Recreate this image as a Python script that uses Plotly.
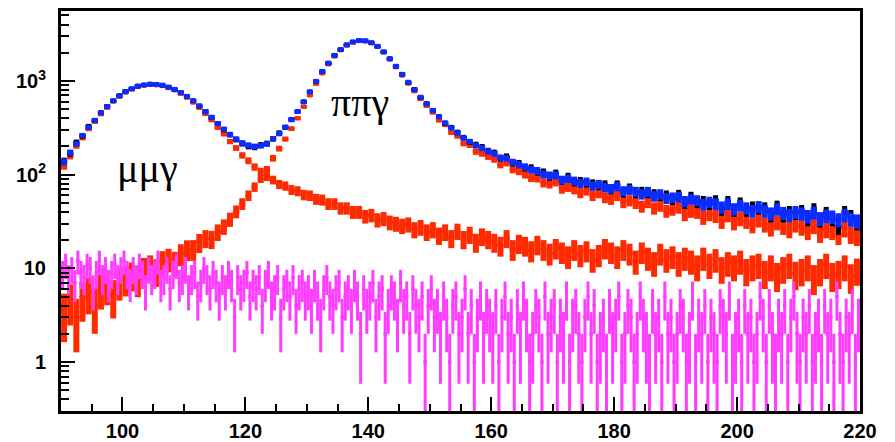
"""Invariant mass spectrum: mu mu gamma and pi pi gamma components on a log scale."""

import numpy as np
import plotly.graph_objects as go

# bin centres, 1 unit wide bins for data / total / components
mass = np.arange(90.5, 220, 1.0)
# 0.5 unit bins for the background histogram
mass_fine = np.arange(90.25, 220, 0.5)

data = [
    140, 168, 222, 258, 330, 376, 462, 540, 610, 702,
    778, 820, 890, 912, 918, 925, 895, 866, 805, 758,
    678, 620, 535, 478, 402, 355, 300, 270, 236, 214,
    200, 196, 208, 216, 240, 280, 318, 392, 468, 605,
    772, 982, 1270, 1540, 1890, 2150, 2440, 2620, 2730, 2690,
    2550, 2350, 2030, 1740, 1420, 1190, 955, 820, 662, 578,
    490, 420, 352, 322, 285, 250, 222, 210, 198, 180,
    172, 150, 156, 134, 132, 119, 118, 108, 106, 96,
    103, 87, 95, 84, 85, 82, 80, 77, 78, 70,
    78, 65, 72, 64, 66, 64, 62, 60, 60, 55,
    61, 50, 58, 51, 52, 49, 53, 43, 52, 42,
    50, 42, 45, 44, 44, 37, 46, 37, 40, 39,
    41, 34, 43, 33, 39, 34, 28, 40, 36, 31,
]

total = [
    137, 172, 214, 262, 320, 380, 456, 532, 616, 694,
    768, 826, 878, 906, 925, 916, 902, 858, 812, 750,
    685, 612, 543, 470, 410, 350, 306, 266, 240, 218,
    206, 200, 204, 213, 243, 274, 322, 385, 472, 596,
    764, 990, 1258, 1552, 1872, 2168, 2428, 2604, 2704, 2680,
    2560, 2338, 2048, 1724, 1434, 1172, 968, 805, 670, 568,
    483, 414, 357, 315, 278, 246, 226, 204, 193, 177,
    168, 152, 150, 136, 128, 121, 113, 110, 101, 98,
    99, 88, 91, 86, 81, 84, 76, 79, 73, 71,
    75, 67, 69, 66, 62, 66, 59, 62, 56, 57,
    58, 52, 55, 53, 48, 51, 49, 45, 49, 43,
    47, 44, 41, 45.5, 41, 38.5, 43, 39, 37, 40,
    38.5, 36, 39.5, 34, 36.5, 35.5, 33, 37, 33.5, 32,
]

pipig = [
    3.5, 4.6, 3.0, 4.9, 5.6, 4.0, 6.1, 6.6, 5.2, 7.2,
    7.8, 8.6, 7.7, 9.8, 10.5, 9.4, 11.8, 12.6, 11.6, 14.3,
    15.9, 16.0, 18.9, 21.0, 20.6, 24.5, 28.0, 33.5, 40.5, 49.0,
    60, 74, 91, 113, 150, 190, 240, 310, 400, 530,
    700, 930, 1200, 1500, 1820, 2120, 2380, 2560, 2660, 2640,
    2520, 2300, 2010, 1690, 1400, 1140, 935, 775, 640, 540,
    460, 380, 340, 282, 258, 215, 207, 176, 168, 156,
    146, 128, 134, 114, 109, 101, 93, 92, 82, 80,
    84, 71, 74, 70, 64, 68, 60, 64, 57, 55,
    60, 51, 53, 50, 46, 51, 44, 47, 41, 43,
    45, 38, 41, 40, 35, 38, 36.5, 32, 37, 31,
    34, 32, 29, 33, 29.5, 27, 31, 28, 26, 29.5,
    27.5, 25, 28.5, 23.5, 26, 25, 22.5, 26.5, 23, 22,
]

mumug = [
    124, 158, 203, 248, 308, 368, 442, 518, 602, 678,
    752, 808, 862, 888, 906, 898, 882, 838, 792, 728,
    662, 588, 517, 443, 382, 318, 272, 226, 193, 161,
    141, 121, 108, 95, 88, 79, 76, 69, 67, 61,
    60, 55, 54, 49, 49, 44, 44, 40, 40, 36,
    37, 33, 34, 31, 30, 28.5, 29.5, 26, 27.5, 24.5,
    26, 22.5, 24.5, 21, 25, 20.5, 23, 19, 22, 20.5,
    19, 17.5, 21, 16, 18.5, 17.5, 15.5, 18, 16, 14.5,
    16.5, 15, 13.5, 16, 14, 15.5, 12.5, 14, 16.5, 15,
    13.5, 16, 14.5, 12, 15, 13, 11.5, 14.5, 12.5, 13.5,
    11.5, 13, 12, 10.5, 13, 11, 12.5, 10, 11.5, 10.5,
    12, 9.5, 10.5, 11, 9, 10.5, 8.5, 10, 11, 8.8,
    9.5, 10.5, 8, 9.5, 11, 8.5, 9, 10.5, 8.2, 9.6,
]

background = [
    9, 11, 8, 10, 7, 12, 9, 8, 11, 10, 6, 9, 12, 8, 10, 7, 9, 11, 8, 10,
    12, 9, 7, 10, 8, 11, 9, 6, 10, 8, 9, 12, 7, 8, 10, 6, 9, 11, 7, 8,
    10, 6, 8, 9, 5, 7, 10, 8, 6, 9, 7, 5, 8, 6, 9, 7, 3, 8, 6, 7,
    9, 5, 7, 6, 8, 4, 7, 9, 5, 6, 8, 3, 6, 7, 5, 8, 4, 6, 7, 5,
    6, 4, 7, 5, 3, 6, 8, 5, 4, 6, 7, 3, 5, 6, 4, 7, 5, 2, 6, 4,
    5, 7, 3, 5, 6, 2, 4, 6, 5, 3, 7, 4, 5, 2, 6, 4, 3, 5, 1, 4,
    6, 3, 4, 2, 5, 3, 1, 4, 5, 2, 3, 6, 2, 4, 1, 3, 5, 2, 4, 3,
    2, 4, 1, 3, 5, 2, 3, 1, 4, 2, 5, 3, 1, 2, 4, 3, 1, 5, 2, 3,
    4, 1, 3, 2, 5, 1, 3, 4, 2, 1, 3, 5, 2, 4, 1, 2, 3, 1, 4, 2,
    3, 5, 1, 2, 4, 3, 1, 2, 5, 3, 2, 1, 4, 2, 3, 1, 5, 2, 3, 1,
    2, 4, 3, 1, 2, 5, 1, 3, 2, 4, 1, 3, 2, 1, 4, 3, 2, 5, 1, 2,
    3, 1, 4, 2, 3, 1, 2, 5, 3, 1, 4, 2, 1, 3, 2, 4, 1, 3, 5, 2,
    1, 3, 2, 4, 1, 2, 3, 1, 4, 2, 3, 1, 5, 2, 1, 3, 2, 4, 1, 3,
]

y_ticks = [1, 10, 100, 1000]
y_ticktext = ['1', '10', '10<sup>2</sup>', '10<sup>3</sup>']
y_minor = [0.4, 0.5, 0.6, 0.7, 0.8, 0.9,
           2, 3, 4, 5, 6, 7, 8, 9,
           20, 30, 40, 50, 60, 70, 80, 90,
           200, 300, 400, 500, 600, 700, 800, 900,
           2000, 3000, 4000, 5000]


def hist_trace(x, y, color, half_width, thick, msize, xthick=3):
    return go.Scatter(
        x=x, y=y, mode='markers',
        marker=dict(color=color, size=msize, symbol='square'),
        error_y=dict(type='sqrt', color=color, thickness=thick, width=0),
        error_x=dict(type='constant', value=half_width, color=color,
                     thickness=xthick, width=0),
        showlegend=False, hoverinfo='skip',
    )


fig = go.Figure()
# components first, then data, then the total on top
fig.add_trace(hist_trace(mass, pipig, '#ff2a00', 0.5, 6, 4))
fig.add_trace(hist_trace(mass, mumug, '#ff2a00', 0.5, 6, 4))
fig.add_trace(hist_trace(mass_fine, background, '#ff3cff', 0.25, 3, 3))
fig.add_trace(hist_trace(mass, data, 'black', 0.5, 5, 4))
fig.add_trace(hist_trace(mass, total, '#0a2cff', 0.5, 6, 5, xthick=4))

fig.add_annotation(x=104.0, y=2.061, text='\u03bc\u03bc\u03b3', showarrow=False,
                   font=dict(family='Liberation Serif', size=40, color='black'))
fig.add_annotation(x=138.7, y=2.775, text='\u03c0\u03c0\u03b3', showarrow=False,
                   font=dict(family='Liberation Serif', size=40, color='black'))

axis_font = dict(family='Liberation Sans', size=20, color='black', weight='bold')

fig.update_xaxes(
    range=[90, 220], showgrid=False, zeroline=False, automargin=False,
    showline=True, linecolor='black', linewidth=3, mirror=True,
    ticks='inside', tickvals=[100, 120, 140, 160, 180, 200, 220],
    ticklen=14, tickwidth=2, tickcolor='black',
    minor=dict(ticks='inside', dtick=5, tick0=90, ticklen=7, tickwidth=2,
               tickcolor='black', showgrid=False),
    tickfont=axis_font, ticklabelstandoff=0,
)
fig.update_yaxes(
    type='log', range=[np.log10(0.30), np.log10(5580)],
    showgrid=False, zeroline=False, automargin=False,
    showline=True, linecolor='black', linewidth=3, mirror=True,
    ticks='inside', tickmode='array', tickvals=y_ticks, ticktext=y_ticktext,
    ticklen=14, tickwidth=2, tickcolor='black',
    minor=dict(ticks='inside', tickmode='array', tickvals=y_minor, ticklen=8,
               tickwidth=2, tickcolor='black', showgrid=False),
    tickfont=axis_font, ticklabelstandoff=8,
)

# the page body adds an 8px offset, so the figure is 8px smaller each way
fig.update_layout(
    width=887, height=434,
    margin=dict(l=53, r=35, t=3, b=31),
    plot_bgcolor='white', paper_bgcolor='white',
)

fig.write_html("out.html")
